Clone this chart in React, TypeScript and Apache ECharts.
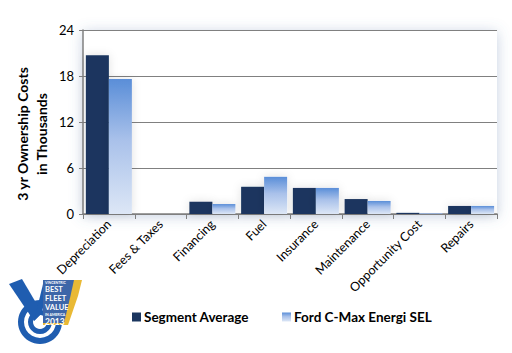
import React, { useEffect, useRef } from "react";
import * as echarts from "echarts";

const categories = ["Depreciation", "Fees & Taxes", "Financing", "Fuel", "Insurance", "Maintenance", "Opportunity Cost", "Repairs"];
const segmentAverage = [20.7, -0.3, 1.6, 3.55, 3.4, 1.95, 0.15, 1.05];
const fordCMax = [17.6, -0.22, 1.3, 4.85, 3.4, 1.7, 0.1, 1.05];
const yTicks = [0, 6, 12, 18, 24];
const seriesNames = ["Segment Average", "Ford C-Max Energi SEL"];
const yAxisTitle = "3 yr Ownership Costs\nin Thousands";

const FONT = "Lato, 'Open Sans', sans-serif";

export default function App() {
  const ref = useRef<HTMLDivElement>(null);
  useEffect(() => {
    if (!ref.current) return;
    const chart = echarts.init(ref.current, undefined, { renderer: "svg" });
    const fordGrad = new echarts.graphic.LinearGradient(0, 0, 0, 1, [
      { offset: 0, color: "#5a8ed8" },
      { offset: 0.45, color: "#a9c1ea" },
      { offset: 1, color: "#dde7f6" },
    ]);
    const navy = "#1b365f";
    chart.setOption({
      animation: false,
      backgroundColor: "#ffffff",
      textStyle: { fontFamily: FONT },
      grid: {
        left: 83,
        right: 15,
        top: 30,
        bottom: 139,
        show: true,
        borderWidth: 0,
        backgroundColor: "#ffffff",
        shadowBlur: 14,
        shadowColor: "rgba(90,120,170,0.35)",
        shadowOffsetX: 0,
        shadowOffsetY: 2,
      },
      legend: {
        left: 127,
        top: 305,
        itemWidth: 9,
        itemHeight: 9,
        itemGap: 33,
        icon: "rect",
        textStyle: { fontFamily: FONT, fontSize: 13.5, fontWeight: "bold", color: "#000", padding: [0, 0, 0, -2] },
        data: [
          { name: seriesNames[0], itemStyle: { color: navy } },
          { name: seriesNames[1], itemStyle: { color: fordGrad } },
        ],
      },
      xAxis: {
        type: "category",
        data: categories,
        axisLine: { show: true, lineStyle: { color: "#808080", width: 1.5 } },
        axisTick: { show: true, length: 5, lineStyle: { color: "#808080" } },
        axisLabel: { rotate: 45, fontSize: 12.5, color: "#000", margin: 8, interval: 0, fontFamily: FONT },
        z: 1,
      },
      yAxis: {
        type: "value",
        min: 0,
        max: 24,
        interval: 6,
        axisLine: { show: true, lineStyle: { color: "#808080", width: 1.5 } },
        axisTick: { show: true, length: 4, lineStyle: { color: "#808080" } },
        axisLabel: {
          fontSize: 13,
          color: "#000",
          margin: 9,
          fontFamily: FONT,
          formatter: (v: number) => (yTicks.includes(v) ? String(v) : ""),
        },
        splitLine: { show: true, lineStyle: { color: "#808080", width: 1.2 } },
      },
      series: [
        {
          name: seriesNames[0],
          type: "bar",
          data: segmentAverage,
          barWidth: 23,
          barGap: "0%",
          z: 3,
          itemStyle: { color: navy, shadowBlur: 10, shadowColor: "rgba(0,0,0,0.12)" },
        },
        {
          name: seriesNames[1],
          type: "bar",
          data: fordCMax,
          barWidth: 23,
          barGap: "0%",
          z: 3,
          itemStyle: { color: fordGrad, shadowBlur: 10, shadowColor: "rgba(0,0,0,0.12)" },
        },
      ],
      graphic: [
        {
          type: "text",
          x: 32,
          y: 134,
          rotation: Math.PI / 2,
          style: {
            text: yAxisTitle,
            fontFamily: FONT,
            fontSize: 14,
            fontWeight: "bold",
            fill: "#000",
            align: "center",
            verticalAlign: "middle",
            lineHeight: 19,
          },
        },
        {
          type: "group",
          left: 9,
          top: 279,
          children: [
            { type: "ring", shape: { cx: 32, cy: 47, r: 22, r0: 16 }, style: { fill: "#1f5db0" } },
            { type: "ring", shape: { cx: 32, cy: 47, r: 12, r0: 7 }, style: { fill: "#1f5db0" } },
            {
              type: "polygon",
              shape: { points: [[1, 9], [14, 4], [34, 38], [26, 46]] },
              style: { fill: "#1f5db0" },
            },
            {
              type: "polygon",
              shape: { points: [[26, 46], [34, 38], [40, 5], [36, 5]] },
              style: { fill: "#1f5db0" },
            },
            {
              type: "polygon",
              shape: { points: [[35, 5], [74, 5], [70, 21], [60, 50], [35, 50]] },
              style: { fill: "#e9b935" },
            },
            {
              type: "polygon",
              shape: { points: [[35, 5], [66, 5], [62, 23], [56, 48], [35, 48]] },
              style: { fill: "#3d66a8" },
            },
            {
              type: "text",
              x: 37,
              y: 6,
              style: {
                text: "{a|VINCENTRIC}\n{b|BEST}\n{b|FLEET}\n{b|VALUE}\n{a|IN AMERICA}\n{c|2013}",
                fill: "#fff",
                fontFamily: FONT,
                fontWeight: "bold",
                verticalAlign: "top",
                rich: {
                  a: { fontSize: 3.5, lineHeight: 4.4, fill: "#fff", fontFamily: FONT, fontWeight: "bold" },
                  b: { fontSize: 7.5, lineHeight: 9, fill: "#fff", fontFamily: FONT, fontWeight: "bold" },
                  c: { fontSize: 8.5, lineHeight: 10, fill: "#fff", fontFamily: FONT, fontWeight: "bold" },
                },
              },
            },
          ],
        },
      ],
    });
    return () => chart.dispose();
  }, []);
  return <div ref={ref} style={{ width: 512, height: 353, position: "absolute", left: 0, top: 0 }} />;
}
